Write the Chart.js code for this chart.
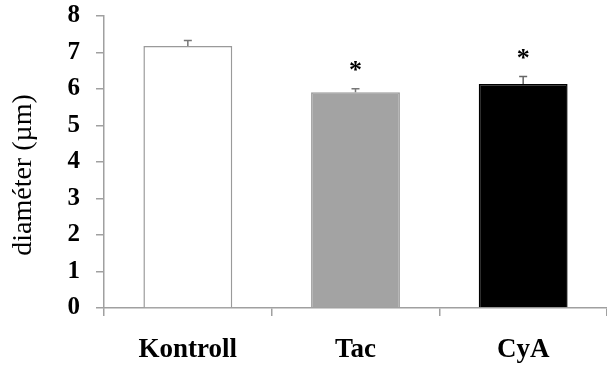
<!DOCTYPE html>
<html>
<head>
<meta charset="utf-8">
<script src="https://cdn.jsdelivr.net/npm/chart.js@4"></script>
<style>
  html, body { margin: 0; padding: 0; background: #fff; }
  #wrap { width: 607px; height: 371px; }
</style>
</head>
<body>
<div id="wrap"><canvas id="c" width="607" height="371"></canvas></div>
<script>
// Mean vessel diameter per group, with SEM and significance marks
const groups = ['Kontroll', 'Tac', 'CyA'];
const diameter = [7.18, 5.91, 6.14];
const sem = [0.15, 0.10, 0.20];
const significant = [false, true, true];
const yTicks = [0, 1, 2, 3, 4, 5, 6, 7, 8];
const yTitle = 'diaméter (µm)';

const fills = ['#ffffff', '#a3a3a3', '#000000'];
const borders = ['#9a9a9a', '#9a9a9a', '#000000'];
const axisGray = '#a0a0a0';
const serif = "'Liberation Serif', 'DejaVu Serif', serif";

// Error bars (upper whisker), asterisks above significant groups, and the y title
const errorBarPlugin = {
  id: 'errorBars',
  afterDatasetsDraw(chart) {
    const ctx = chart.ctx;
    const x = chart.scales.x;
    const y = chart.scales.y;
    ctx.save();
    groups.forEach((g, i) => {
      const cx = x.getPixelForValue(i);
      const yTop = y.getPixelForValue(diameter[i]);
      const yErr = y.getPixelForValue(diameter[i] + sem[i]);
      ctx.strokeStyle = i === 2 ? '#666' : '#777';
      ctx.lineWidth = 1.5;
      ctx.beginPath();
      ctx.moveTo(cx, yTop);
      ctx.lineTo(cx, yErr);
      ctx.moveTo(cx - 4, yErr);
      ctx.lineTo(cx + 4, yErr);
      ctx.stroke();
      if (significant[i]) {
        ctx.fillStyle = '#000';
        ctx.font = 'bold 26px ' + serif;
        ctx.textAlign = 'center';
        ctx.textBaseline = 'middle';
        ctx.fillText('*', cx, yErr - 17);
      }
    });
    // rotated axis title, centred a little below the middle of the value axis
    ctx.translate(24, (y.top + y.bottom) / 2 + 13);
    ctx.rotate(-Math.PI / 2);
    ctx.fillStyle = '#000';
    ctx.font = '28px ' + serif;
    ctx.textAlign = 'center';
    ctx.textBaseline = 'middle';
    ctx.fillText(yTitle, 0, 0);
    ctx.restore();
  }
};

new Chart(document.getElementById('c'), {
  type: 'bar',
  data: {
    labels: groups,
    datasets: [{
      data: diameter,
      backgroundColor: fills,
      borderColor: borders,
      borderWidth: 1.5,
      barPercentage: 0.53,
      categoryPercentage: 1.0
    }]
  },
  options: {
    responsive: false,
    animation: false,
    devicePixelRatio: 1,
    layout: { padding: { top: 16, right: 0, bottom: 0, left: 0 } },
    plugins: { legend: { display: false }, tooltip: { enabled: false } },
    scales: {
      x: {
        grid: { offset: true, drawOnChartArea: false, drawTicks: true, tickLength: 8, color: axisGray, lineWidth: 1.5 },
        border: { color: axisGray, width: 1.5 },
        ticks: { color: '#000', padding: 18, font: { family: serif, size: 27, weight: 'bold' } },
        afterFit(s) { s.height = 63; s.paddingLeft = 0; s.paddingRight = 0; }
      },
      y: {
        min: 0,
        max: 8,
        afterBuildTicks(s) { s.ticks = yTicks.map(v => ({ value: v })); },
        grid: { drawOnChartArea: false, drawTicks: true, tickLength: 8, color: axisGray, lineWidth: 1.5 },
        border: { color: axisGray, width: 1.5 },
        ticks: { color: '#000', padding: 16, font: { family: serif, size: 25, weight: 'bold' } },
        afterFit(s) { s.width = 104; s.paddingTop = 0; s.paddingBottom = 0; }
      }
    }
  },
  plugins: [errorBarPlugin]
});
</script>
</body>
</html>
